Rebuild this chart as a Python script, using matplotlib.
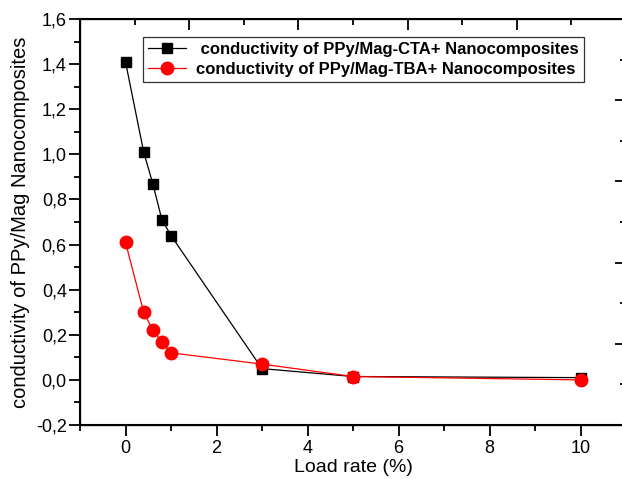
import numpy as np
import matplotlib
matplotlib.use('agg')
import matplotlib.pyplot as plt
from matplotlib.ticker import MultipleLocator, FuncFormatter

plt.rcParams['font.family'] = ['Liberation Sans', 'DejaVu Sans']

load = [0, 0.4, 0.6, 0.8, 1, 3, 5, 10]
cta = [1.41, 1.01, 0.87, 0.71, 0.64, 0.05, 0.015, 0.01]
tba = [0.61, 0.30, 0.22, 0.17, 0.12, 0.07, 0.015, 0.0]
label_cta = ' conductivity of PPy/Mag-CTA+ Nanocomposites'
label_tba = 'conductivity of PPy/Mag-TBA+ Nanocomposites'

W, H = 622, 479
fig = plt.figure(figsize=(W / 100, H / 100), dpi=100)
# right spine sits just past the picture edge, like the original
ax = fig.add_axes([80 / W, (H - 425) / H, 546 / W, 406 / H])

ax.plot(load, cta, color='black', lw=0.9, marker='s', ms=7.8, label=label_cta)
ax.plot(load, tba, color='red', lw=0.9, marker='o', ms=9, label=label_tba)

ax.set_xlim(-1, 11)
ax.set_ylim(-0.2, 1.6)
ax.xaxis.set_major_locator(MultipleLocator(2))
ax.xaxis.set_minor_locator(MultipleLocator(1))
ax.yaxis.set_major_locator(MultipleLocator(0.2))
ax.yaxis.set_minor_locator(MultipleLocator(0.1))
ax.yaxis.set_major_formatter(FuncFormatter(lambda v, p: f'{v:.1f}'.replace('.', ',')))
ax.tick_params(which='both', direction='out', width=1.3, labelsize=13, top=False, right=False)
ax.tick_params(which='major', length=8)
ax.tick_params(which='minor', length=4)
ax.tick_params(axis='y', pad=1.5)
ax.tick_params(axis='x', pad=3)
for s in ax.spines.values():
    s.set_linewidth(1.5)

ax.set_xlabel('Load rate (%)', fontsize=14, labelpad=1)
ax.set_ylabel('conductivity of PPy/Mag Nanocomposites', fontsize=14.5, labelpad=4)

# Origin-style extra tick sets on top and right (no labels)
axt = ax.twiny()
axt.set_xlim(0, 5)
axt.xaxis.set_major_locator(MultipleLocator(1))
axt.xaxis.set_minor_locator(MultipleLocator(0.5))
axt.tick_params(which='both', direction='in', width=1.3, labeltop=False, top=True, bottom=False)
axt.tick_params(which='major', length=8)
axt.tick_params(which='minor', length=4)

axr = ax.twinx()
axr.set_ylim(0, 5)
axr.yaxis.set_major_locator(MultipleLocator(1))
axr.yaxis.set_minor_locator(MultipleLocator(0.5))
axr.tick_params(which='both', direction='in', width=1.3, labelright=False, right=True, left=False)
axr.tick_params(which='major', length=8)
axr.tick_params(which='minor', length=4)

handles, labels = ax.get_legend_handles_labels()
leg = axr.legend(handles, labels, loc='upper left', bbox_to_anchor=(0.115, 0.956),
                 borderaxespad=0, prop={'weight': 'bold', 'size': 12}, frameon=True,
                 fancybox=False, edgecolor='black', handlelength=2.3, labelspacing=0.3,
                 borderpad=0.3, handletextpad=0.6)
leg.get_frame().set_linewidth(0.9)

fig.savefig('out.png', dpi=100)
